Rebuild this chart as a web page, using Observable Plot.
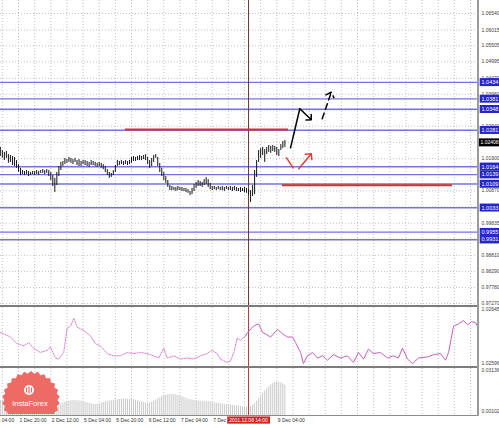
<!DOCTYPE html>
<html><head><meta charset="utf-8">
<script src="https://cdn.jsdelivr.net/npm/d3@7"></script>
<script src="https://cdn.jsdelivr.net/npm/@observablehq/plot@0.6"></script>
<style>
html,body{margin:0;padding:0;background:#fff;}
#chart{position:relative;width:499px;height:428px;overflow:hidden;background:#fff;}
#chart svg{position:absolute;left:0;}
.sep{position:absolute;background:#808080;}
</style></head><body><div id="chart"></div>
<script>
// ---------- DATA ----------
// H1 bars, index 0 = 1 Dec 11:00
const barHigh = [1.0226,1.0216,1.0210,1.0213,1.0203,1.0200,1.0197,1.0194,1.0184,1.0171,
1.0159,1.0152,1.0149,1.0152,1.0149,1.0146,1.0149,1.0149,1.0152,1.0149,
1.0152,1.0155,1.0152,1.0155,1.0152,1.0146,1.0136,1.0127,1.0146,1.0165,
1.0178,1.0181,1.0191,1.0187,1.0194,1.0191,1.0187,1.0191,1.0184,1.0187,
1.0181,1.0184,1.0184,1.0181,1.0178,1.0184,1.0181,1.0178,1.0175,1.0178,
1.0175,1.0171,1.0165,1.0155,1.0146,1.0143,1.0152,1.0168,1.0184,1.0181,
1.0184,1.0181,1.0184,1.0181,1.0184,1.0194,1.0197,1.0194,1.0197,1.0200,
1.0197,1.0200,1.0203,1.0194,1.0184,1.0191,1.0200,1.0203,1.0194,1.0175,
1.0159,1.0146,1.0133,1.0120,1.0104,1.0101,1.0098,1.0098,1.0101,1.0098,
1.0098,1.0095,1.0095,1.0091,1.0085,1.0095,1.0107,1.0114,1.0120,1.0117,
1.0114,1.0123,1.0130,1.0123,1.0111,1.0101,1.0101,1.0098,1.0101,1.0098,
1.0101,1.0098,1.0101,1.0098,1.0101,1.0098,1.0101,1.0098,1.0095,1.0098,
1.0095,1.0098,1.0095,1.0091,1.0088,1.0104,1.0152,1.0184,1.0216,1.0222,
1.0226,1.0219,1.0226,1.0232,1.0229,1.0232,1.0229,1.0226,1.0219,1.0235,
1.0245,1.0248];
const barLow = [1.0197,1.0191,1.0184,1.0191,1.0175,1.0178,1.0168,1.0165,1.0159,1.0146,
1.0136,1.0139,1.0136,1.0139,1.0133,1.0136,1.0139,1.0136,1.0139,1.0136,
1.0143,1.0143,1.0139,1.0143,1.0133,1.0120,1.0101,1.0082,1.0104,1.0133,
1.0152,1.0165,1.0171,1.0175,1.0178,1.0175,1.0171,1.0178,1.0168,1.0165,
1.0165,1.0171,1.0168,1.0165,1.0162,1.0168,1.0168,1.0165,1.0162,1.0165,
1.0159,1.0155,1.0146,1.0136,1.0127,1.0130,1.0136,1.0146,1.0165,1.0168,
1.0171,1.0168,1.0171,1.0168,1.0171,1.0175,1.0181,1.0181,1.0184,1.0184,
1.0184,1.0187,1.0184,1.0171,1.0159,1.0165,1.0178,1.0191,1.0165,1.0146,
1.0133,1.0120,1.0111,1.0098,1.0088,1.0088,1.0088,1.0085,1.0088,1.0088,
1.0085,1.0085,1.0082,1.0079,1.0072,1.0075,1.0085,1.0095,1.0101,1.0101,
1.0098,1.0104,1.0107,1.0098,1.0091,1.0088,1.0091,1.0088,1.0091,1.0088,
1.0088,1.0085,1.0091,1.0088,1.0088,1.0085,1.0088,1.0085,1.0085,1.0082,
1.0085,1.0082,1.0079,1.0072,1.0050,1.0069,1.0075,1.0130,1.0178,1.0191,
1.0200,1.0178,1.0203,1.0210,1.0207,1.0213,1.0210,1.0200,1.0197,1.0216,
1.0222,1.0226];

const priceTicks = [1.06540,1.06015,1.05505,1.04995,1.04470,1.03960,1.03450,1.02940,1.02420,
  1.01900,1.01390,1.00870,1.00360,0.99835,0.99330,0.98810,0.98290,0.97780,0.97270];
const blueLevels = [1.0434,1.0381,1.0348,1.0281,1.0164,1.0139,1.0109,1.0033,0.9955,0.9931];
const currentPrice = [1.02408];

const redLevelFrom = [62, 139.8];
const redLevelTo = [142.8, 224.1];
const redLevelPrice = [1.0283, 1.0105];

const blackArrowIdx = [143.8, 148.4, 154.1];
const blackArrowPrice = [1.02247, 1.03494, 1.03142];
const dashArrowIdx = [159.5, 164.0];
const dashArrowPrice = [1.03174, 1.04024];
const redArrowIdx = [141.8, 145.1, 147.9, 154.1];
const redArrowPrice = [1.01927, 1.01608, 1.01576, 1.02055];

const oscDotIdx = [0,1.7,5,8.3,11.6,14,16.5,19.8,23.2,24.8,27.3,28.9,31.4,33.1,34.8,36.4,38.1,41.4,44.7,47.1,49.6,53,56.2,59.5,62.9,66.1,69.5,72.8,76,78.5,81,82.7,86,89.3,92.6,95.9,99.2,102.5,105,107.5,109.1,112.4,114,115.7,117.4,119,121.5];
const oscDotVal = [1.02624,1.02623,1.02620,1.02614,1.02612,1.02615,1.02610,1.02606,1.02608,1.02611,1.02601,1.02600,1.02606,1.02628,1.02630,1.02637,1.02629,1.02626,1.02621,1.02614,1.02612,1.02605,1.02603,1.02603,1.02606,1.02605,1.02606,1.02605,1.02603,1.02601,1.02610,1.02601,1.02603,1.02600,1.02601,1.02600,1.02603,1.02605,1.02608,1.02605,1.02600,1.02597,1.02598,1.02606,1.02619,1.02617,1.02621];
const oscSolidIdx = [121.5,122.5,125.5,128,130,131.4,133.9,137.4,139.8,142.3,144.8,146.3,148.8,150.2,152.2,154.7,157.2,159.7,162.1,165.1,168.6,172,175,177.5,180,182.4,184.9,188.4,191.9,194.8,197.3,199.3,201.8,204.3,207.2,211.7,214.7,218.1,220.6,222.1,224.6,227.1,229.5,231.5,233.5,235.5,236.4];
const oscSolidVal = [1.02621,1.02624,1.02630,1.02632,1.02624,1.02623,1.02620,1.02627,1.02623,1.02620,1.02620,1.02615,1.02606,1.02596,1.02603,1.02606,1.02601,1.02603,1.02599,1.02604,1.02601,1.02603,1.02597,1.02606,1.02600,1.02609,1.02605,1.02606,1.02601,1.02603,1.02601,1.02610,1.02600,1.02596,1.02601,1.02602,1.02604,1.02605,1.02599,1.02606,1.02630,1.02632,1.02635,1.02631,1.02634,1.02633,1.02630];
const oscTicks = [1.02645, 1.02596];

const histVal = [0.0090,0.0092,0.0095,0.0093,0.0090,0.0088,0.0086,0.0085,0.0083,0.0080,
0.0078,0.0075,0.0072,0.0068,0.0065,0.0060,0.0056,0.0052,0.0048,0.0045,
0.0042,0.0040,0.0038,0.0036,0.0034,0.0030,0.0028,0.0030,0.0040,0.0050,
0.0060,0.0070,0.0078,0.0082,0.0085,0.0088,0.0090,0.0092,0.0090,0.0088,
0.0086,0.0082,0.0078,0.0074,0.0070,0.0066,0.0062,0.0060,0.0064,0.0068,
0.0072,0.0076,0.0080,0.0084,0.0088,0.0090,0.0092,0.0094,0.0096,0.0098,
0.0100,0.0101,0.0102,0.0101,0.0100,0.0098,0.0095,0.0092,0.0088,0.0084,
0.0080,0.0076,0.0072,0.0070,0.0072,0.0078,0.0086,0.0094,0.0102,0.0110,
0.0118,0.0124,0.0128,0.0132,0.0134,0.0135,0.0134,0.0132,0.0128,0.0124,
0.0118,0.0112,0.0106,0.0100,0.0096,0.0094,0.0092,0.0090,0.0088,0.0086,
0.0085,0.0084,0.0083,0.0082,0.0080,0.0078,0.0075,0.0072,0.0070,0.0068,
0.0065,0.0062,0.0060,0.0058,0.0056,0.0054,0.0052,0.0050,0.0048,0.0046,
0.0045,0.0044,0.0043,0.0042,0.0045,0.0055,0.0068,0.0085,0.0105,0.0125,
0.0145,0.0160,0.0175,0.0190,0.0205,0.0215,0.0222,0.0225,0.0224,0.0220,
0.0212,0.0200];
const histTicks = [0.03136, 0.00102];

const timeTicks = [-7, 9, 25, 41, 57, 73, 89, 105, 137];
const timeLabels = ["1 Dec 04:00","1 Dec 20:00","2 Dec 12:00","5 Dec 04:00","5 Dec 20:00","6 Dec 12:00","7 Dec 04:00","7 Dec 20:00","9 Dec 04:00"];
const markerIndex = [123];
const markerLabel = ["2011.12.08 14:00"];

// ---------- TABLES ----------
const bars = barHigh.map((h, k) => ({i: k, high: h, low: barLow[k]}));
const redLevels = redLevelPrice.map((p, k) => ({from: redLevelFrom[k], to: redLevelTo[k], price: p}));
const pts = (I, V) => I.map((x, k) => ({i: x, p: V[k]}));
const blackPts = pts(blackArrowIdx, blackArrowPrice);
const dashPts = pts(dashArrowIdx, dashArrowPrice);
const redPts = pts(redArrowIdx, redArrowPrice);
const seg = (a, b) => ({x1: a.i, y1: a.p, x2: b.i, y2: b.p});
const oscDot = pts(oscDotIdx, oscDotVal);
const oscSolid = pts(oscSolidIdx, oscSolidVal);
const hist = histVal.map((v, k) => ({i: k, v}));

const xDomain = [0.08, 236.46];
const gridIdx = d3.range(1, 237, 8);
const FONT = "Liberation Sans, Arial, sans-serif";
const GRID = {stroke: "#c2c2c2", strokeDasharray: "1,2", strokeWidth: 1};
const baseStyle = {background: "transparent", fontFamily: FONT, fontSize: "5px", overflow: "visible"};
const axisText = (ticks, digits) => Plot.text(ticks, {y: d => d, text: d => d.toFixed(digits), frameAnchor: "right",
  textAnchor: "start", dx: 4, fill: "#404040", fontSize: 5, fontFamily: FONT});

const chart = document.getElementById("chart");

// ---------- MAIN PRICE PANEL ----------
const main = Plot.plot({
  width: 499, height: 305, marginTop: 0, marginBottom: 0, marginLeft: 0, marginRight: 22,
  x: {domain: xDomain, axis: null}, y: {domain: [0.97206, 1.06956], axis: null},
  style: baseStyle,
  marks: [
    Plot.ruleX(gridIdx, GRID),
    Plot.ruleY(priceTicks, GRID),
    Plot.ruleY(blueLevels, {stroke: "#7474d8", strokeWidth: 1.4}),
    Plot.ruleX(markerIndex, {stroke: "#6e3434", strokeWidth: 1}),
    Plot.ruleY(redLevels, {y: "price", x1: "from", x2: "to", stroke: "#d9302b", strokeWidth: 2}),
    Plot.ruleX(bars, {x: "i", y1: "low", y2: "high", stroke: "#151515", strokeWidth: 1}),
    Plot.line(blackPts.slice(0, 2), {x: "i", y: "p", stroke: "#000", strokeWidth: 1.5}),
    Plot.arrow([seg(blackPts[1], blackPts[2])], {x1: "x1", y1: "y1", x2: "x2", y2: "y2", stroke: "#000", strokeWidth: 1.5, headAngle: 90, headLength: 6}),
    Plot.arrow([seg(dashPts[0], dashPts[1])], {x1: "x1", y1: "y1", x2: "x2", y2: "y2", stroke: "#000", strokeWidth: 1.5, headAngle: 90, headLength: 6, strokeDasharray: "6,4"}),
    Plot.line(redPts.slice(0, 2), {x: "i", y: "p", stroke: "#e0403a", strokeWidth: 1.5}),
    Plot.arrow([seg(redPts[2], redPts[3])], {x1: "x1", y1: "y1", x2: "x2", y2: "y2", stroke: "#e0403a", strokeWidth: 1.5, headAngle: 90, headLength: 6}),
    axisText(priceTicks, 5),
    Plot.text(blueLevels, {y: d => d, text: d => d.toFixed(4), frameAnchor: "right", textAnchor: "start", dx: 4,
      fill: "white", fontSize: 5.5, fontFamily: FONT}),
    Plot.text(currentPrice, {y: d => d, text: d => d.toFixed(5), frameAnchor: "right", textAnchor: "start", dx: 3,
      fill: "white", fontSize: 5, fontFamily: FONT})
  ]
});
main.style.top = "0px";
chart.appendChild(main);

// ---------- OSCILLATOR PANEL ----------
const osc = Plot.plot({
  width: 499, height: 59, marginTop: 0, marginBottom: 0, marginLeft: 0, marginRight: 22,
  x: {domain: xDomain, axis: null}, y: {domain: [1.025933, 1.026468], axis: null},
  style: baseStyle,
  marks: [
    Plot.ruleX(gridIdx, GRID),
    Plot.ruleX(markerIndex, {stroke: "#b83a3a", strokeWidth: 1}),
    Plot.line(oscDot, {x: "i", y: "p", stroke: "#d77ad7", strokeWidth: 1, strokeDasharray: "1.3,1.3"}),
    Plot.line(oscSolid, {x: "i", y: "p", stroke: "#c460c4", strokeWidth: 1}),
    axisText(oscTicks, 5)
  ]
});
osc.style.top = "307px";
chart.appendChild(osc);

// ---------- HISTOGRAM PANEL + TIME AXIS ----------
const histo = Plot.plot({
  width: 499, height: 60, marginTop: 0, marginBottom: 13, marginLeft: 0, marginRight: 22,
  x: {domain: xDomain, axis: null}, y: {domain: [-0.0019, 0.03246], axis: null},
  style: baseStyle,
  marks: [
    Plot.ruleX(gridIdx, GRID),
    Plot.ruleX(hist, {x: "i", y1: -0.0019, y2: "v", stroke: "#c8c8c8", strokeWidth: 1}),
    Plot.ruleX(markerIndex, {stroke: "#b83a3a", strokeWidth: 1}),
    axisText(histTicks, 5),
    Plot.text(timeTicks, {x: d => d, text: (d, k) => timeLabels[k], frameAnchor: "bottom", lineAnchor: "top",
      textAnchor: "start", dx: 1, dy: 3, fill: "#303030", fontSize: 5, fontFamily: FONT}),
    Plot.text(markerIndex, {x: d => d, text: (d, k) => markerLabel[k], frameAnchor: "bottom", lineAnchor: "top",
      textAnchor: "middle", dy: 3, fill: "white", fontSize: 5, fontFamily: FONT})
  ]
});
histo.style.top = "368px";
chart.appendChild(histo);

// ---------- label boxes (backgrounds behind the library's own text) ----------
function boxLabels(svg, strings, fill, px, py) {
  const want = new Set(strings);
  svg.querySelectorAll("text").forEach(t => {
    if (!want.has(t.textContent)) return;
    const b = t.getBBox();
    const r = document.createElementNS("http://www.w3.org/2000/svg", "rect");
    r.setAttribute("x", b.x - px); r.setAttribute("y", b.y - py);
    r.setAttribute("width", b.width + 2 * px); r.setAttribute("height", b.height + 2 * py);
    r.setAttribute("fill", fill);
    const tr = t.getAttribute("transform"); if (tr) r.setAttribute("transform", tr);
    t.parentNode.insertBefore(r, t);
  });
}
boxLabels(main, blueLevels.map(d => d.toFixed(4)), "#2626c8", 1.8, 1.0);
boxLabels(main, currentPrice.map(d => d.toFixed(5)), "#000000", 1.5, 1.0);
boxLabels(histo, markerLabel, "#d42222", 2, 0.6);

// ---------- logo ----------
const logo = d3.select(chart).append("svg").attr("width", 64).attr("height", 53)
  .style("top", "361px").style("left", "0px");
const cx = 31, cy = 39, n = 26, ro = 29, ri = 26.5;
const star = d3.range(n * 2).map(k => {
  const a = Math.PI * k / n, r = k % 2 ? ri : ro;
  return [cx + r * Math.sin(a), cy - r * Math.cos(a)];
});
logo.append("polygon").attr("points", star.join(" ")).attr("fill", "#ee6a64");
logo.append("circle").attr("cx", 29).attr("cy", 29).attr("r", 5).attr("fill", "#fff");
logo.append("path").attr("d", "M26.5 26.5 v5 M29 25.5 v7 M31.5 26.5 v5").attr("stroke", "#ee6a64").attr("stroke-width", 1.2);
logo.append("text").attr("x", 30).attr("y", 45).attr("text-anchor", "middle").attr("fill", "#fff")
  .attr("font-family", FONT).attr("font-size", 7.5).text("InstaForex");

// ---------- separators ----------
const sep = (l, t, w, h, c) => { const d = document.createElement("div"); d.className = "sep";
  Object.assign(d.style, {left: l + "px", top: t + "px", width: w + "px", height: h + "px", background: c}); chart.appendChild(d); };
sep(0, 305, 478, 2, "#7c7c7c");
sep(0, 366, 478, 2, "#7c7c7c");
sep(0, 415, 478, 1, "#8a8a8a");
sep(477, 0, 1.5, 416, "#9a9a9a");
</script></body></html>
